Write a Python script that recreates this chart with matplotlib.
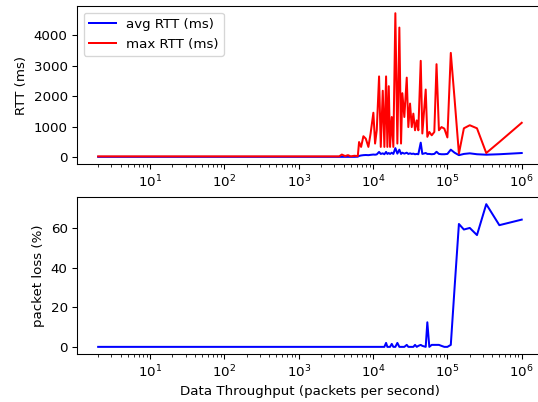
import matplotlib
matplotlib.use("Agg")
import matplotlib.pyplot as plt
from matplotlib.ticker import MultipleLocator

# packets per second
rate = [2, 5, 10, 20, 50, 100, 200, 500, 1000, 2000, 3000, 3500, 3800, 4200,
        4600, 5000, 5600, 6230, 6480, 6900, 7410, 7980, 8650, 9260, 10090,
        10640, 11210, 12040, 12690, 13500, 14190, 14960, 15570, 16260, 16920,
        17840, 18740, 19940, 21220, 22570, 23780, 24760, 26340, 28380, 29810,
        31430, 33130, 34820, 36700, 38680, 40640, 43770, 45990, 51070, 53700,
        57110, 61520, 66680, 71400, 76900, 83300, 90900, 100000, 111111,
        125000, 142857, 166667, 200000, 250000, 333333, 500000, 1000000]

max_rtt = [30, 30, 30, 30, 30, 30, 30, 30, 30, 30, 30, 30, 90, 40,
           70, 30, 50, 40, 500, 340, 690, 610, 340, 780, 1460,
           450, 890, 2650, 340, 2180, 340, 2650, 340, 2330, 340,
           1320, 340, 4720, 450, 4250, 450, 2100, 1320, 2610, 990,
           1760, 990, 1430, 885, 1210, 885, 3160, 780, 2220, 670,
           830, 720, 830, 3050, 885, 990, 940, 650, 3420,
           1900, 120, 950, 1050, 950, 140, 500, 1130]

avg_rtt = [15, 15, 15, 15, 15, 15, 15, 15, 15, 15, 15, 15, 15, 15,
           15, 15, 15, 20, 45, 60, 70, 75, 70, 80, 90,
           85, 95, 175, 110, 130, 100, 175, 110, 140, 110,
           150, 110, 300, 120, 250, 110, 150, 120, 150, 110,
           130, 110, 120, 100, 110, 100, 480, 110, 140, 110,
           110, 100, 110, 180, 110, 100, 100, 110, 250,
           150, 70, 110, 130, 100, 85, 100, 140]

loss = [0, 0, 0, 0, 0, 0, 0, 0, 0, 0, 0, 0, 0, 0,
        0, 0, 0, 0, 0, 0, 0, 0, 0, 0, 0,
        0, 0, 0, 0, 0, 0, 2, 0, 0, 0,
        1.5, 0, 0, 2, 0, 0, 0, 0, 1, 0,
        0, 0, 0, 1, 0, 0.5, 1, 0.5, 0, 12.4,
        0, 1, 1, 1, 1, 0.5, 0, 0, 1,
        30, 62, 59.2, 60, 56.4, 72, 61.4, 64.2]

fig = plt.figure(figsize=(538 / 96, 402 / 96), dpi=96)
ax1 = fig.add_axes([0.1431, 0.592, 0.866, 0.393])
ax2 = fig.add_axes([0.1431, 0.1194, 0.866, 0.3905])

ax1.plot(rate, avg_rtt, 'b', label='avg RTT (ms)')
ax1.plot(rate, max_rtt, 'r', label='max RTT (ms)')
ax1.set_xscale('log')
ax1.yaxis.set_major_locator(MultipleLocator(1000))
ax1.set_ylabel('RTT (ms)')
ax1.legend(loc='upper left')

ax2.plot(rate, loss, 'b')
ax2.set_xscale('log')
ax2.set_ylabel('packet loss (%)')
ax2.set_xlabel('Data Throughput (packets per second)')

fig.savefig('out.png', dpi=96)
